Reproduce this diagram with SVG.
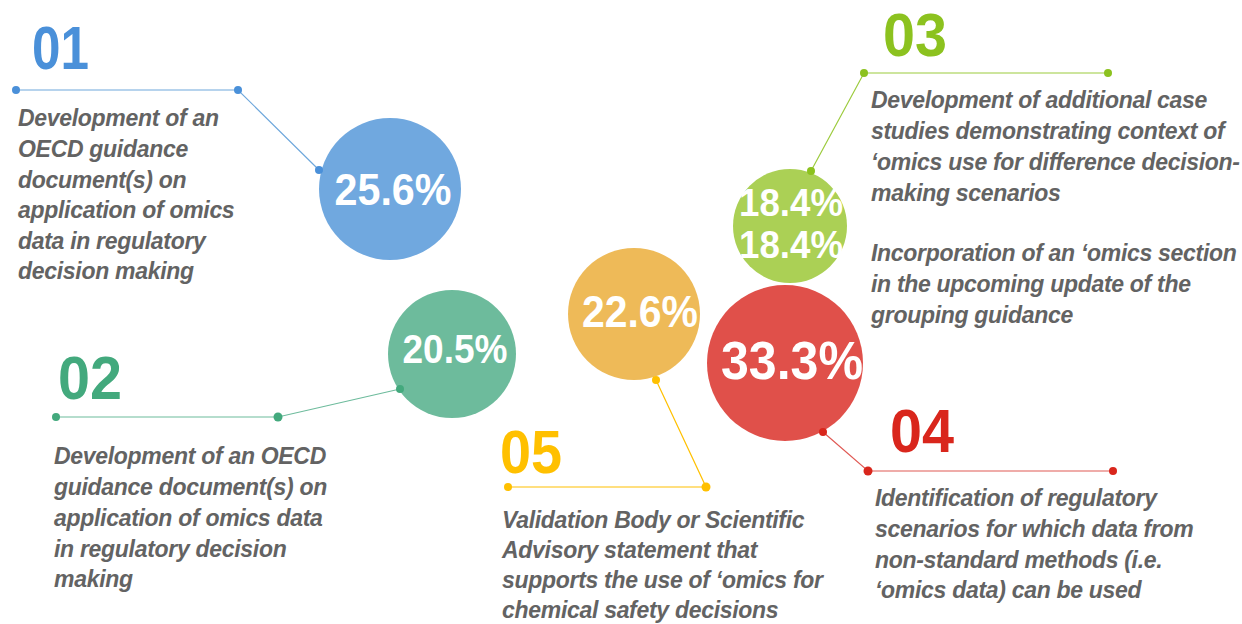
<svg xmlns="http://www.w3.org/2000/svg" width="1242" height="624" viewBox="0 0 1242 624">
<style>
.num{font-family:"Liberation Sans",Arial,sans-serif;font-weight:bold;font-size:62px}
.pct{font-family:"Liberation Sans",Arial,sans-serif;font-weight:bold;fill:#fff;text-anchor:middle}
.desc{font-family:"Liberation Sans",Arial,sans-serif;font-weight:bold;font-style:italic;font-size:23px;letter-spacing:-0.3px;fill:#636363}
.ln{stroke-width:1.2;fill:none}
</style>
<rect width="1242" height="624" fill="#fff"/>
<g id="circles">
<g id="c1"><circle cx="390" cy="189" r="71" fill="#70a8df"/><text class="pct" x="393" y="205" font-size="44" textLength="117" lengthAdjust="spacingAndGlyphs">25.6%</text></g>
<g id="c2"><circle cx="452" cy="354" r="64" fill="#6dbb9c"/><text class="pct" x="455" y="363" font-size="40" textLength="105" lengthAdjust="spacingAndGlyphs">20.5%</text></g>
<g id="c5"><circle cx="634" cy="314" r="66" fill="#eeba58"/><text class="pct" x="640" y="327" font-size="44" textLength="116" lengthAdjust="spacingAndGlyphs">22.6%</text></g>
<g id="c3"><circle cx="790" cy="226" r="57" fill="#abd055"/><text class="pct" x="791" y="216" font-size="38" textLength="104" lengthAdjust="spacingAndGlyphs">18.4%</text><text class="pct" x="791" y="258" font-size="38" textLength="104" lengthAdjust="spacingAndGlyphs">18.4%</text></g>
<g id="c4"><circle cx="785" cy="363" r="78" fill="#e0504a"/><text class="pct" x="792" y="379" font-size="54" textLength="142" lengthAdjust="spacingAndGlyphs">33.3%</text></g>
</g>
<g id="connectors">
<polyline class="ln" stroke="#6fa8dc" points="16,90 238,90 319,170"/>
<circle cx="16" cy="90" r="4" fill="#4a90d9"/><circle cx="238" cy="90" r="4" fill="#4a90d9"/><circle cx="319" cy="170" r="4" fill="#4a90d9"/>
<polyline class="ln" stroke="#6dbb9c" points="56,417 278,417 400,389"/>
<circle cx="56" cy="417" r="4" fill="#43a97d"/><circle cx="278" cy="417" r="4.5" fill="#43a97d"/><circle cx="400" cy="389" r="4" fill="#43a97d"/>
<polyline class="ln" stroke="#ffc000" points="508,487 706,487 656,380"/>
<circle cx="508" cy="487" r="4" fill="#ffc000"/><circle cx="706" cy="487" r="4.5" fill="#ffc000"/><circle cx="656" cy="380" r="4" fill="#ffc000"/>
<polyline class="ln" stroke="#e05a55" points="823,432 868,471 1113,471"/>
<circle cx="823" cy="432" r="4" fill="#d9261c"/><circle cx="868" cy="471" r="4.5" fill="#d9261c"/><circle cx="1113" cy="471" r="4" fill="#d9261c"/>
<polyline class="ln" stroke="#9ccb3d" points="811,171 864,73 1108,73"/>
<circle cx="811" cy="171" r="4" fill="#8cc21f"/><circle cx="864" cy="73" r="4" fill="#8cc21f"/><circle cx="1108" cy="73" r="4" fill="#8cc21f"/>
</g>
<g id="item01">
<text class="num" x="32" y="69" fill="#4a90d9" textLength="57" lengthAdjust="spacingAndGlyphs">01</text>
<text class="desc"><tspan x="18" y="126">Development of an</tspan><tspan x="18" y="157">OECD guidance</tspan><tspan x="18" y="188">document(s) on</tspan><tspan x="18" y="218">application of omics</tspan><tspan x="18" y="249">data in regulatory</tspan><tspan x="18" y="279">decision making</tspan></text>
</g>
<g id="item02">
<text class="num" x="58" y="399" fill="#43a97d" textLength="64" lengthAdjust="spacingAndGlyphs">02</text>
<text class="desc"><tspan x="54" y="464">Development of an OECD</tspan><tspan x="54" y="495">guidance document(s) on</tspan><tspan x="54" y="526">application of omics data</tspan><tspan x="54" y="557">in regulatory decision</tspan><tspan x="54" y="587">making</tspan></text>
</g>
<g id="item03">
<text class="num" x="883" y="56" fill="#8cc21f" textLength="64" lengthAdjust="spacingAndGlyphs">03</text>
<text class="desc"><tspan x="871" y="108">Development of additional case</tspan><tspan x="871" y="139">studies demonstrating context of</tspan><tspan x="871" y="170">‘omics use for difference decision-</tspan><tspan x="871" y="201">making scenarios</tspan><tspan x="871" y="261">Incorporation of an ‘omics section</tspan><tspan x="871" y="292">in the upcoming update of the</tspan><tspan x="871" y="323">grouping guidance</tspan></text>
</g>
<g id="item04">
<text class="num" x="890" y="452" fill="#d9261c" textLength="64" lengthAdjust="spacingAndGlyphs">04</text>
<text class="desc"><tspan x="875" y="506">Identification of regulatory</tspan><tspan x="875" y="537">scenarios for which data from</tspan><tspan x="875" y="568">non-standard methods (i.e.</tspan><tspan x="875" y="598">‘omics data) can be used</tspan></text>
</g>
<g id="item05">
<text class="num" x="500" y="473" fill="#ffc000" textLength="62" lengthAdjust="spacingAndGlyphs">05</text>
<text class="desc"><tspan x="502" y="528">Validation Body or Scientific</tspan><tspan x="502" y="558">Advisory statement that</tspan><tspan x="502" y="588">supports the use of ‘omics for</tspan><tspan x="502" y="618">chemical safety decisions</tspan></text>
</g>
</svg>
